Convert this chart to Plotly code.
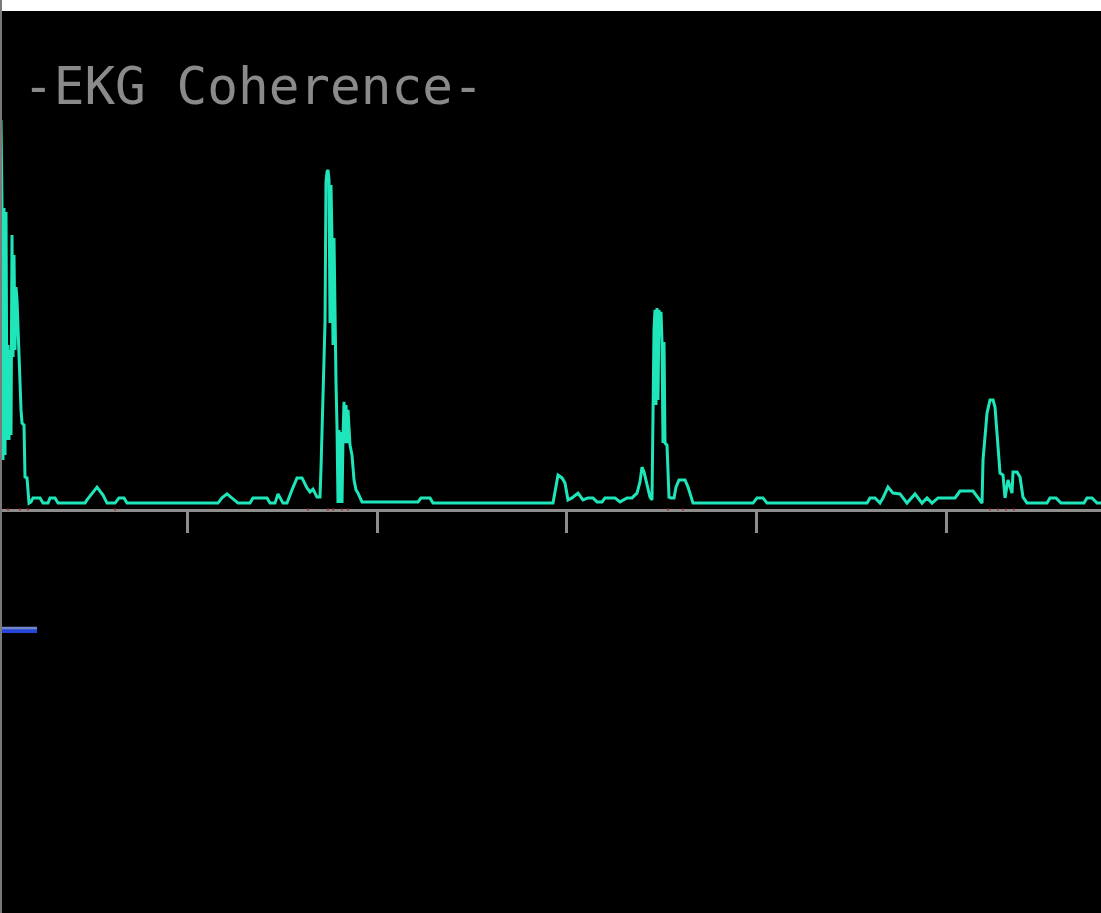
import plotly.graph_objects as go

# ---- data (time in seconds, coherence amplitude) ----
t_sec = [
    0.0153, 0.0206, 0.0258, 0.0311, 0.0364, 0.0417, 0.0469, 0.0522, 0.0575, 0.0628,
    0.0680, 0.0733, 0.0786, 0.0839, 0.0891, 0.0944, 0.0997, 0.1050, 0.1155, 0.1208,
    0.1261, 0.1366, 0.1419, 0.1524, 0.1630, 0.1735, 0.1841, 0.2210, 0.2368, 0.2632,
    0.2737, 0.3001, 0.3159, 0.4583, 0.4689, 0.5216, 0.5533, 0.5744, 0.6166, 0.6377,
    0.6640, 0.6799, 1.1598, 1.1809, 1.2073, 1.2337, 1.2653, 1.3286, 1.3444, 1.4183,
    1.4341, 1.4605, 1.4763, 1.5026, 1.5237, 1.5501, 1.5765, 1.6029, 1.6292, 1.6451,
    1.6609, 1.6820, 1.6978, 1.7031, 1.7136, 1.7189, 1.7242, 1.7294, 1.7347, 1.7400,
    1.7453, 1.7505, 1.7558, 1.7611, 1.7664, 1.7716, 1.7769, 1.7822, 1.7875, 1.7927,
    1.7980, 1.8033, 1.8086, 1.8138, 1.8191, 1.8244, 1.8297, 1.8349, 1.8402, 1.8455,
    1.8560, 1.8666, 1.8771, 1.8877, 1.8982, 1.9088, 1.9193, 2.2147, 2.2305, 2.2780,
    2.2938, 2.9267, 2.9373, 2.9531, 2.9742, 2.9900, 3.0058, 3.0269, 3.0586, 3.0849,
    3.1113, 3.1377, 3.1588, 3.1851, 3.2010, 3.2537, 3.2801, 3.3170, 3.3434, 3.3697,
    3.3856, 3.3961, 3.4067, 3.4172, 3.4278, 3.4383, 3.4489, 3.4541, 3.4594, 3.4647,
    3.4700, 3.4752, 3.4805, 3.4858, 3.4911, 3.4963, 3.5016, 3.5069, 3.5122, 3.5174,
    3.5280, 3.5385, 3.5491, 3.5649, 3.5755, 3.5913, 3.6229, 3.6388, 3.6546, 3.6652,
    3.9816, 4.0027, 4.0343, 4.0554, 4.5829, 4.5987, 4.6251, 4.6514, 4.6673, 4.6936,
    4.7200, 4.7569, 4.7938, 4.8360, 4.8729, 4.8994, 4.9258, 4.9574, 5.0470, 5.0734,
    5.1420, 5.1683, 5.1894, 5.1947, 5.2158, 5.2316, 5.2475, 5.2580, 5.2686, 5.2844,
    5.3002, 5.3107, 5.3265, 5.3476, 5.3529, 5.3740, 5.3899, 5.4056, 5.4268, 5.5322,
    5.5480, 5.5797, 5.6059, 5.7274, 5.7432, 5.7696, 5.7959, 5.8170,
]
coherence = [
    0.974, 0.761, 0.124, 0.754, 0.136, 0.744, 0.174, 0.411, 0.174, 0.399,
    0.186, 0.686, 0.381, 0.636, 0.399, 0.556, 0.524, 0.449, 0.269, 0.249,
    0.216, 0.211, 0.081, 0.079, 0.016, 0.019, 0.029, 0.029, 0.016, 0.016,
    0.029, 0.029, 0.016, 0.016, 0.024, 0.056, 0.036, 0.016, 0.016, 0.029,
    0.029, 0.016, 0.016, 0.029, 0.039, 0.029, 0.016, 0.016, 0.029, 0.029,
    0.016, 0.016, 0.039, 0.016, 0.016, 0.049, 0.079, 0.079, 0.054, 0.044,
    0.051, 0.031, 0.031, 0.104, 0.294, 0.336, 0.466, 0.819, 0.844, 0.849,
    0.824, 0.466, 0.811, 0.674, 0.411, 0.679, 0.411, 0.316, 0.206, 0.016,
    0.199, 0.016, 0.194, 0.016, 0.181, 0.269, 0.166, 0.261, 0.166, 0.249,
    0.161, 0.136, 0.074, 0.049, 0.041, 0.031, 0.019, 0.019, 0.029, 0.029,
    0.016, 0.016, 0.049, 0.086, 0.079, 0.066, 0.024, 0.029, 0.041, 0.024,
    0.029, 0.029, 0.019, 0.019, 0.029, 0.029, 0.019, 0.029, 0.029, 0.041,
    0.069, 0.106, 0.094, 0.074, 0.054, 0.031, 0.024, 0.256, 0.449, 0.499,
    0.261, 0.504, 0.274, 0.499, 0.449, 0.494, 0.419, 0.166, 0.419, 0.166,
    0.161, 0.031, 0.029, 0.029, 0.056, 0.074, 0.074, 0.056, 0.029, 0.016,
    0.016, 0.029, 0.029, 0.016, 0.016, 0.029, 0.029, 0.016, 0.029, 0.056,
    0.041, 0.039, 0.016, 0.039, 0.016, 0.029, 0.016, 0.029, 0.029, 0.046,
    0.046, 0.029, 0.016, 0.124, 0.241, 0.274, 0.274, 0.256, 0.181, 0.091,
    0.086, 0.029, 0.074, 0.041, 0.094, 0.094, 0.081, 0.031, 0.016, 0.016,
    0.029, 0.029, 0.016, 0.016, 0.029, 0.029, 0.016, 0.016,
]
beat_marks_t = [0.0522, 0.1155, 0.1577, 0.6166, 1.6345, 1.7400, 1.7664, 1.8138,
                1.8455, 3.5333, 3.6124, 5.2316, 5.2738, 5.3160, 5.3582]
tick_seconds = [1, 2, 3, 4, 5]
score_level = -0.301
score_t = [0.0100, 0.2052]
title_text = "-EKG Coherence-"

T_RANGE = [0.0100, 5.8170]
Y_RANGE = [-1.00875, 1.24625]
GREY = "#8c8c8c"

fig = go.Figure()

# coherence trace
fig.add_trace(go.Scatter(
    x=t_sec, y=coherence, mode="lines",
    line=dict(color="#1fe6ba", width=3), hoverinfo="skip",
))

# beat marks on the baseline
fig.add_trace(go.Scatter(
    x=beat_marks_t, y=[0] * len(beat_marks_t), mode="markers",
    marker=dict(symbol="square", size=2, color="#b03030", line=dict(width=0)),
    hoverinfo="skip",
))

# score bar (two-tone blue)
fig.add_trace(go.Scatter(
    x=score_t, y=[score_level, score_level], mode="lines",
    line=dict(color="#2446dc", width=6), hoverinfo="skip",
))
fig.add_trace(go.Scatter(
    x=score_t, y=[score_level + 0.0045, score_level + 0.0045], mode="lines",
    line=dict(color="#7386c4", width=2.5), hoverinfo="skip",
))

pos = (0 - Y_RANGE[0]) / (Y_RANGE[1] - Y_RANGE[0])

fig.update_layout(
    width=1101, height=913,
    margin=dict(l=0, r=0, t=11, b=0, pad=0),
    paper_bgcolor="white", plot_bgcolor="black",
    showlegend=False,
    xaxis=dict(
        range=T_RANGE, showgrid=False, zeroline=False,
        showline=True, linecolor=GREY, linewidth=3,
        ticks="outside", ticklen=21, tickwidth=3, tickcolor=GREY,
        tickvals=tick_seconds, showticklabels=False,
        anchor="free", position=pos, layer="below traces",
        fixedrange=True,
    ),
    yaxis=dict(
        range=Y_RANGE, showgrid=False, zeroline=False,
        showticklabels=False, showline=False, ticks="", fixedrange=True,
    ),
    annotations=[dict(
        text=title_text, xref="paper", yref="paper",
        x=0.019, y=0.916, xanchor="left", yanchor="middle",
        showarrow=False,
        font=dict(family="DejaVu Sans Mono", size=51, color="#8a8a8a"),
    )],
    shapes=[dict(
        type="line", xref="paper", yref="paper",
        x0=0.0009, x1=0.0009, y0=0, y1=1.013,
        line=dict(color="#7a7a7a", width=2),
    )],
)

fig.write_html(
    "out.html",
    config={"displayModeBar": False},
    post_script="document.body.style.margin='0px';document.body.style.overflow='hidden';",
)
